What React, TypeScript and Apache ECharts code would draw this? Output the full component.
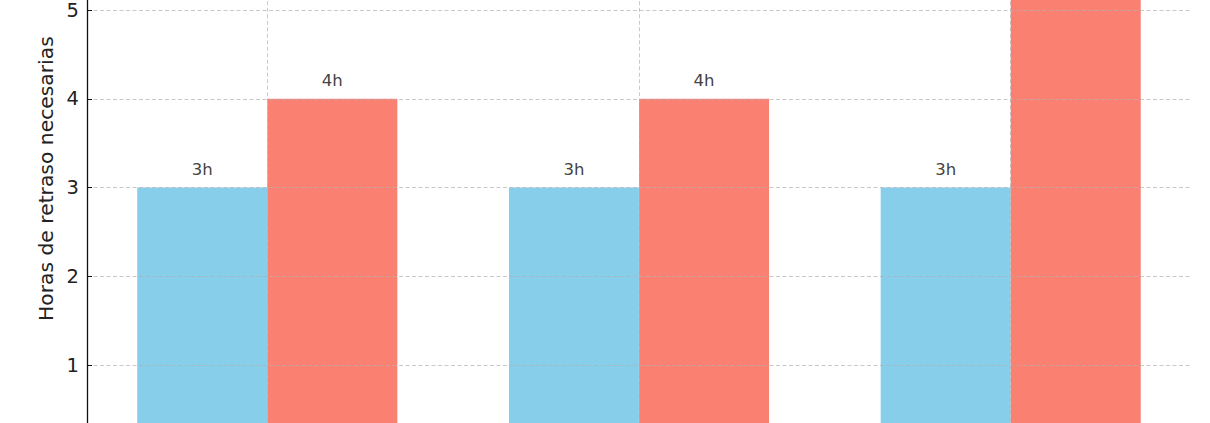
import React, { useEffect, useRef } from "react";
import * as echarts from "echarts";

// Data (x-axis category names are outside the visible crop)
const groups = [0, 1, 2];
const blueValues = [3, 3, 3];
const redValues = [4, 4, 6];
const barLabels = (v: number) => `${v}h`;
const yTicks = [0, 1, 2, 3, 4, 5, 6];
const yAxisName = "Horas de retraso necesarias";

const BAR_W = 0.35;

export default function App() {
  const ref = useRef<HTMLDivElement>(null);
  useEffect(() => {
    if (!ref.current) return;
    const chart = echarts.init(ref.current, null, { renderer: "svg" });
    const font = "DejaVu Sans";
    const labelCfg = {
      show: true,
      position: "top" as const,
      distance: 10,
      formatter: (p: any) => barLabels(p.value[1]),
      color: "#444",
      fontSize: 16.5,
      fontFamily: font,
    };
    chart.setOption({
      animation: false,
      grid: { left: 87, right: 19, top: 53.5, bottom: 46.25 },
      xAxis: {
        type: "value",
        min: -0.485,
        max: 2.485,
        axisLine: { show: false, onZero: false },
        axisTick: { show: false },
        axisLabel: { show: false },
        splitLine: { show: false },
      },
      yAxis: {
        type: "value",
        min: yTicks[0],
        max: 6.2,
        interval: 1,
        z: 5,
        name: yAxisName,
        nameLocation: "middle",
        nameGap: 31,
        nameTextStyle: { fontSize: 20.3, color: "#222", fontFamily: font },
        axisLine: { show: true, onZero: false, lineStyle: { color: "#111", width: 1.3 } },
        axisTick: { show: true, inside: true, length: 5, lineStyle: { color: "#111", width: 1 } },
        axisLabel: { fontSize: 19.5, color: "#222", fontFamily: font, margin: 8 },
        splitLine: {
          show: true,
          lineStyle: { color: "rgba(176,176,176,0.7)", width: 1, type: [4, 2.5] },
        },
      },
      series: [
        {
          type: "bar",
          barWidth: 130,
          barGap: "-100%",
          itemStyle: { color: "#87CEEB" },
          label: labelCfg,
          data: groups.map((g, i) => [g - BAR_W / 2, blueValues[i]]),
        },
        {
          type: "bar",
          barWidth: 130,
          barGap: "-100%",
          itemStyle: { color: "#FA8072" },
          label: labelCfg,
          data: groups.map((g, i) => [g + BAR_W / 2, redValues[i]]),
          markLine: {
            silent: true,
            symbol: "none",
            z: 10,
            label: { show: false },
            lineStyle: { color: "rgba(176,176,176,0.7)", width: 1, type: [4, 2.5] },
            data: groups.map((g) => ({ xAxis: g })),
          },
        },
      ],
    });
    return () => chart.dispose();
  }, []);
  return (
    <div style={{ position: "absolute", left: 0, top: 0, width: 1210, height: 423, overflow: "hidden", background: "#fff" }}>
      <div ref={ref} style={{ position: "absolute", left: 0, top: -150, width: 1210, height: 650 }} />
    </div>
  );
}
